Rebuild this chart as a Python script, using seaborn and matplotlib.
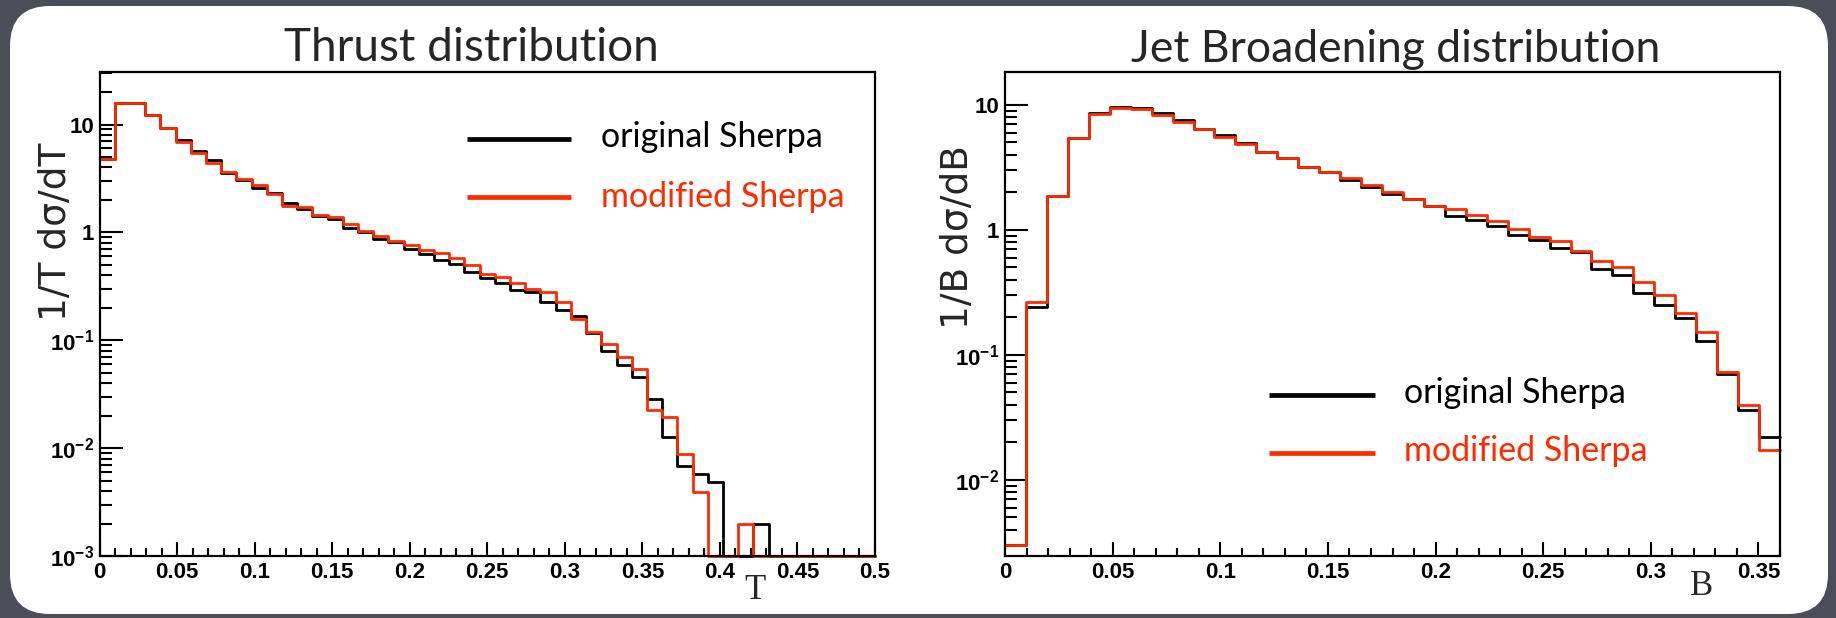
import numpy as np
import pandas as pd
import matplotlib
matplotlib.use("Agg")
import matplotlib.pyplot as plt
from matplotlib.patches import FancyBboxPatch
from matplotlib.ticker import LogLocator, MultipleLocator, FuncFormatter, NullFormatter
import seaborn as sns

# Thrust: 51 bins on [0, 0.5]
thrust_max = 0.5
thrust_orig = [4.8, 15.8, 16.0, 12.2, 9.3, 7.14, 5.68, 4.65, 3.54, 3.08,
               2.59, 2.31, 1.86, 1.65, 1.43, 1.33, 1.11, 1.0, 0.867, 0.807,
               0.70, 0.63, 0.55, 0.514, 0.431, 0.376, 0.342, 0.29, 0.28, 0.228,
               0.189, 0.168, 0.116, 0.080, 0.0595, 0.0454, 0.0286, 0.0126, 0.0069, 0.0058,
               0.0049, 0, 0, 0.002, 0, 0, 0, 0, 0, 0, 0]
thrust_mod = [4.8, 15.7, 15.8, 12.2, 9.3, 6.89, 5.49, 4.43, 3.62, 3.16,
              2.76, 2.28, 1.77, 1.71, 1.46, 1.38, 1.2, 1.02, 0.93, 0.837,
              0.763, 0.686, 0.645, 0.578, 0.497, 0.41, 0.389, 0.338, 0.297, 0.28,
              0.226, 0.156, 0.119, 0.0914, 0.070, 0.054, 0.0227, 0.0196, 0.0088, 0.0039,
              0, 0, 0.002, 0, 0, 0, 0, 0, 0, 0, 0]

# Jet broadening: 37 bins on [0, 0.36]
broad_max = 0.36
broad_orig = [0.003, 0.24, 1.87, 5.45, 8.55, 9.54, 9.45, 8.55, 7.6, 6.45,
              5.74, 4.92, 4.22, 3.74, 3.2, 2.92, 2.51, 2.22, 1.94, 1.77,
              1.56, 1.3, 1.19, 1.08, 0.912, 0.832, 0.714, 0.659, 0.485, 0.437,
              0.312, 0.252, 0.197, 0.129, 0.0702, 0.0365, 0.0221]
broad_mod = [0.003, 0.267, 1.87, 5.4, 8.4, 9.38, 9.2, 8.28, 7.22, 6.45,
             5.56, 4.86, 4.22, 3.74, 3.2, 2.92, 2.62, 2.29, 2.02, 1.77,
             1.56, 1.46, 1.31, 1.18, 1.02, 0.884, 0.817, 0.676, 0.565, 0.503,
             0.386, 0.299, 0.216, 0.151, 0.0725, 0.0395, 0.0172]

labels = ["original Sherpa", "modified Sherpa"]
RED = "#ff2a00"
BG = "#4b4e57"

sns.set_style("white")
plt.rcParams["mathtext.fontset"] = "custom"
plt.rcParams["mathtext.rm"] = "Liberation Sans:bold"
plt.rcParams["mathtext.bf"] = "Liberation Sans:bold"
plt.rcParams["mathtext.default"] = "rm"

W, H = 1836, 618
fig = plt.figure(figsize=(W / 100, H / 100), dpi=100, facecolor=BG)

# white rounded slide panel
panel = FancyBboxPatch((0.10, 0.04), 18.18, 6.08,
                       boxstyle="round,pad=0,rounding_size=0.4",
                       transform=fig.dpi_scale_trans, facecolor="white",
                       edgecolor="none", zorder=0)
fig.add_artist(panel)


def fig_box(x0, x1, ytop, ybot):
    return [x0 / W, 1 - ybot / H, (x1 - x0) / W, (ybot - ytop) / H]


def draw_hist(ax, values, x_max, color, floor):
    n = len(values)
    edges = np.linspace(0, x_max, n + 1)
    vals = np.maximum(np.asarray(values, float), floor)
    df = pd.DataFrame({"x": edges, "y": np.append(vals, vals[-1])})
    sns.lineplot(data=df, x="x", y="y", ax=ax, color=color, lw=2.0,
                 drawstyle="steps-post", sort=False, clip_on=False)


def log_fmt(v, pos):
    e = int(round(np.log10(v)))
    if e == 0:
        return "1"
    if e == 1:
        return "10"
    return "$10^{%d}$" % e


def style_axes(ax, xmax, ylim):
    ax.set_yscale("log")
    ax.set_xlim(0, xmax)
    ax.set_ylim(*ylim)
    ax.set_xlabel("")
    ax.set_ylabel("")
    ax.xaxis.set_major_locator(MultipleLocator(0.05))
    ax.xaxis.set_minor_locator(MultipleLocator(0.01))
    ax.xaxis.set_major_formatter(FuncFormatter(lambda v, p: "0" if abs(v) < 1e-9 else ("%g" % round(v, 3))))
    ax.yaxis.set_major_locator(LogLocator(base=10, numticks=12))
    ax.yaxis.set_minor_locator(LogLocator(base=10, subs=np.arange(2, 10), numticks=30))
    ax.yaxis.set_major_formatter(FuncFormatter(log_fmt))
    ax.yaxis.set_minor_formatter(NullFormatter())
    ax.tick_params(axis="both", which="both", direction="in", top=False, right=False,
                   left=True, bottom=True, width=1.5, colors="black", labelsize=16, pad=4)
    ax.tick_params(axis="y", which="major", length=16.5)
    ax.tick_params(axis="y", which="minor", length=8.5)
    ax.tick_params(axis="x", which="major", length=10)
    ax.tick_params(axis="x", which="minor", length=5.5)
    for lab in ax.get_xticklabels() + ax.get_yticklabels():
        lab.set_fontfamily("Liberation Sans")
        lab.set_fontweight("bold")
    for sp in ax.spines.values():
        sp.set_linewidth(1.6)
        sp.set_color("black")
        sp.set_visible(True)
    if ax.get_legend() is not None:
        ax.get_legend().remove()


def draw_legend(ax, x0, x1, ys, xt, yb):
    for y, yt, col, lab in zip(ys, yb, ["black", RED], labels):
        ax.plot([x0, x1], [y, y], transform=ax.transAxes, color=col, lw=3.4,
                solid_capstyle="butt", clip_on=False)
        ax.text(xt, yt, lab, transform=ax.transAxes, color=col, fontsize=24.5,
                family="Lato", va="baseline", ha="left")


# ---- Thrust ----
ax1 = fig.add_axes(fig_box(99.5, 875, 72, 556))
ax1.set_facecolor("white")
draw_hist(ax1, thrust_orig, thrust_max, "black", 1e-3)
draw_hist(ax1, thrust_mod, thrust_max, RED, 1e-3)
style_axes(ax1, thrust_max, (1e-3, 30.7))
draw_legend(ax1, 0.4734, 0.608, [0.862, 0.7417], 0.6467, [0.8459, 0.721])
ax1.text(0.845, -0.072, "T", transform=ax1.transAxes, family="Liberation Serif",
         fontsize=25, ha="center", va="center")
fig.text(471 / W, 1 - 61 / H, "Thrust distribution", family="Lato", fontsize=33,
         ha="center", va="baseline")
fig.text(56 / W, 1 - 232 / H, "1/T d\u03c3/dT", family="DejaVu Sans", fontsize=27,
         rotation=90, ha="center", va="center")

# ---- Jet broadening ----
ax2 = fig.add_axes(fig_box(1005, 1780, 72, 556))
ax2.set_facecolor("white")
draw_hist(ax2, broad_orig, broad_max, "black", 1e-4)
draw_hist(ax2, broad_mod, broad_max, RED, 1e-4)
style_axes(ax2, broad_max, (2.46e-3, 18.3))
draw_legend(ax2, 0.3406, 0.4774, [0.3326, 0.2128], 0.5148, [0.3165, 0.196])
ax2.text(0.899, -0.062, "B", transform=ax2.transAxes, family="Liberation Serif",
         fontsize=25, ha="center", va="center")
fig.text(1396 / W, 1 - 62 / H, "Jet Broadening distribution", family="Lato", fontsize=32,
         ha="center", va="baseline")
fig.text(958 / W, 1 - 237 / H, "1/B d\u03c3/dB", family="DejaVu Sans", fontsize=27,
         rotation=90, ha="center", va="center")

fig.savefig("out.png", dpi=100, facecolor=fig.get_facecolor())
